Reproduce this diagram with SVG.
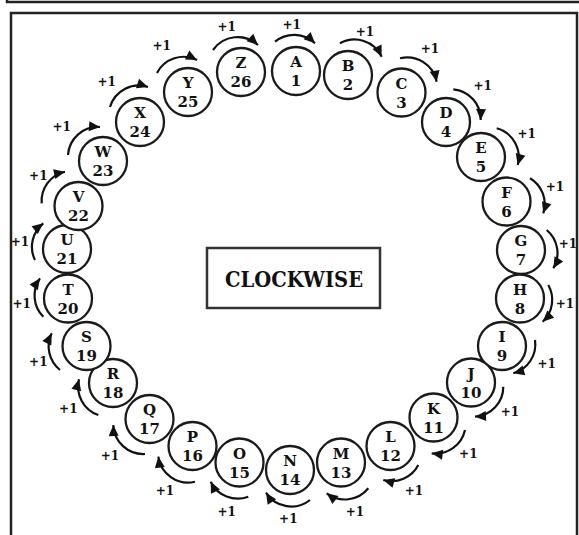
<svg xmlns="http://www.w3.org/2000/svg" width="579" height="535" viewBox="0 0 579 535">
<defs>
<marker id="ah" markerUnits="userSpaceOnUse" markerWidth="13" markerHeight="11" refX="11" refY="5" orient="auto" overflow="visible">
<path d="M0,0 L11,5 L0,10 z" fill="#111"/>
</marker>
<style>
.frame{fill:none;stroke:#222;stroke-width:2.5}
.node circle{fill:#fff;stroke:#1a1a1a;stroke-width:2.3}
.node text{font-family:"DejaVu Serif","Liberation Serif",serif;font-weight:bold;font-size:15px;fill:#111;text-anchor:middle}
.arr path{fill:none;stroke:#111;stroke-width:2.2;marker-end:url(#ah)}
.arr text{font-family:"DejaVu Serif","Liberation Serif",serif;font-weight:bold;font-size:12px;fill:#111;text-anchor:middle}
.title rect{fill:#fff;stroke:#333;stroke-width:2.5}
.title text{font-family:"DejaVu Serif","Liberation Serif",serif;font-weight:bold;font-size:23px;fill:#111;text-anchor:middle}
</style>
</defs>
<rect width="579" height="535" fill="#fff"/>
<rect class="frame" x="7" y="-20" width="600" height="22"/>
<rect class="frame" x="11" y="13" width="566" height="540"/>

<g id="clockwise" class="title">
<rect x="207" y="248" width="173" height="60"/>
<text x="294" y="287" textLength="138" lengthAdjust="spacingAndGlyphs">CLOCKWISE</text>
</g>

<g id="connectors" class="arr">
<path d="M275,41.7 A30,30 0 0 1 315,43.3"/><text x="291.7" y="28.5">+1</text>
<path d="M340,43.3 A30,30 0 0 1 381.7,56.7"/><text x="365" y="36.2">+1</text>
<path d="M400,58.3 A30,30 0 0 1 436.7,81.7"/><text x="430" y="52.8">+1</text>
<path d="M453.3,89.3 A30,30 0 0 1 480.7,120"/><text x="482.7" y="89.5">+1</text>
<path d="M496.7,128.3 A30,30 0 0 1 517.7,165"/><text x="526.7" y="137.8">+1</text>
<path d="M530,178.3 A30,30 0 0 1 543.3,213.3"/><text x="555" y="191.2">+1</text>
<path d="M546.7,230 A30,30 0 0 1 553.3,268.3"/><text x="568" y="247.8">+1</text>
<path d="M548.3,285 A30,30 0 0 1 542.7,321.7"/><text x="565" y="307.8">+1</text>
<path d="M535,340 A30,30 0 0 1 513.3,373.3"/><text x="546.7" y="367.5">+1</text>
<path d="M503.3,386.7 A30,30 0 0 1 475,416.7"/><text x="510" y="416.2">+1</text>
<path d="M465,430 A30,30 0 0 1 431.7,453.3"/><text x="468.3" y="457.8">+1</text>
<path d="M418.3,465 A30,30 0 0 1 383.3,480"/><text x="414" y="494.5">+1</text>
<path d="M368.3,488.3 A30,30 0 0 1 326.7,493.3"/><text x="355" y="516.2">+1</text>
<path d="M310,500 A30,30 0 0 1 266,492.7"/><text x="288.3" y="522.8">+1</text>
<path d="M248.3,496.7 A30,30 0 0 1 210.7,481.7"/><text x="226.7" y="516.2">+1</text>
<path d="M195,481.7 A30,30 0 0 1 158.3,456.7"/><text x="165" y="494.5">+1</text>
<path d="M145,454 A30,30 0 0 1 113.3,425"/><text x="110" y="459.5">+1</text>
<path d="M98.3,415 A30,30 0 0 1 79,379.3"/><text x="68.3" y="412.8">+1</text>
<path d="M60,370 A30,30 0 0 1 51.7,333.3"/><text x="38.3" y="366.2">+1</text>
<path d="M43.3,316.7 A30,30 0 0 1 40,278.3"/><text x="21.7" y="307.8">+1</text>
<path d="M35,260 A30,30 0 0 1 43.3,223.3"/><text x="20" y="246.2">+1</text>
<path d="M41.7,203.3 A30,30 0 0 1 65,171.7"/><text x="38.3" y="179.5">+1</text>
<path d="M68,155 A30,30 0 0 1 100,127"/><text x="61.7" y="131.2">+1</text>
<path d="M110,107 A30,30 0 0 1 148,87"/><text x="106.7" y="86.2">+1</text>
<path d="M157,73 A30,30 0 0 1 197,60"/><text x="161.7" y="49.5">+1</text>
<path d="M213,50 A30,30 0 0 1 258,45"/><text x="226.7" y="31.2">+1</text>
</g>

<g id="nA" class="node"><circle cx="296" cy="71" r="24"/><text x="296" y="67">A</text><text x="296" y="86">1</text></g>
<g id="nB" class="node"><circle cx="348" cy="75" r="24"/><text x="348" y="71">B</text><text x="348" y="90">2</text></g>
<g id="nC" class="node"><circle cx="401.5" cy="92.5" r="24"/><text x="401.5" y="88.5">C</text><text x="401.5" y="107.5">3</text></g>
<g id="nD" class="node"><circle cx="446" cy="122" r="24"/><text x="446" y="118">D</text><text x="446" y="137">4</text></g>
<g id="nE" class="node"><circle cx="481" cy="157" r="24"/><text x="481" y="153">E</text><text x="481" y="172">5</text></g>
<g id="nF" class="node"><circle cx="506.5" cy="201.5" r="24"/><text x="506.5" y="197.5">F</text><text x="506.5" y="216.5">6</text></g>
<g id="nG" class="node"><circle cx="521" cy="250" r="24"/><text x="521" y="246">G</text><text x="521" y="265">7</text></g>
<g id="nH" class="node"><circle cx="520" cy="298.5" r="24"/><text x="520" y="294.5">H</text><text x="520" y="313.5">8</text></g>
<g id="nI" class="node"><circle cx="502" cy="346" r="24"/><text x="502" y="342">I</text><text x="502" y="361">9</text></g>
<g id="nJ" class="node"><circle cx="471" cy="382.5" r="24"/><text x="471" y="378.5">J</text><text x="471" y="397.5">10</text></g>
<g id="nK" class="node"><circle cx="433.5" cy="417.5" r="24"/><text x="433.5" y="413.5">K</text><text x="433.5" y="432.5">11</text></g>
<g id="nL" class="node"><circle cx="390.5" cy="446" r="24"/><text x="390.5" y="442">L</text><text x="390.5" y="461">12</text></g>
<g id="nM" class="node"><circle cx="341" cy="462.5" r="24"/><text x="341" y="458.5">M</text><text x="341" y="477.5">13</text></g>
<g id="nN" class="node"><circle cx="290" cy="470" r="24"/><text x="290" y="466">N</text><text x="290" y="485">14</text></g>
<g id="nO" class="node"><circle cx="239.5" cy="462.5" r="24"/><text x="239.5" y="458.5">O</text><text x="239.5" y="477.5">15</text></g>
<g id="nP" class="node"><circle cx="192.5" cy="446" r="24"/><text x="192.5" y="442">P</text><text x="192.5" y="461">16</text></g>
<g id="nQ" class="node"><circle cx="149.5" cy="419" r="24"/><text x="149.5" y="415">Q</text><text x="149.5" y="434">17</text></g>
<g id="nR" class="node"><circle cx="113" cy="383" r="24"/><text x="113" y="379">R</text><text x="113" y="398">18</text></g>
<g id="nS" class="node"><circle cx="86.5" cy="346" r="24"/><text x="86.5" y="342">S</text><text x="86.5" y="361">19</text></g>
<g id="nT" class="node"><circle cx="68" cy="298.5" r="24"/><text x="68" y="294.5">T</text><text x="68" y="313.5">20</text></g>
<g id="nU" class="node"><circle cx="67" cy="249" r="24"/><text x="67" y="245">U</text><text x="67" y="264">21</text></g>
<g id="nV" class="node"><circle cx="78.5" cy="206" r="24"/><text x="78.5" y="202">V</text><text x="78.5" y="221">22</text></g>
<g id="nW" class="node"><circle cx="103" cy="161" r="24"/><text x="103" y="157">W</text><text x="103" y="176">23</text></g>
<g id="nX" class="node"><circle cx="140" cy="122" r="24"/><text x="140" y="118">X</text><text x="140" y="137">24</text></g>
<g id="nY" class="node"><circle cx="188" cy="92" r="24"/><text x="188" y="88">Y</text><text x="188" y="107">25</text></g>
<g id="nZ" class="node"><circle cx="241" cy="72" r="24"/><text x="241" y="68">Z</text><text x="241" y="87">26</text></g>
</svg>
